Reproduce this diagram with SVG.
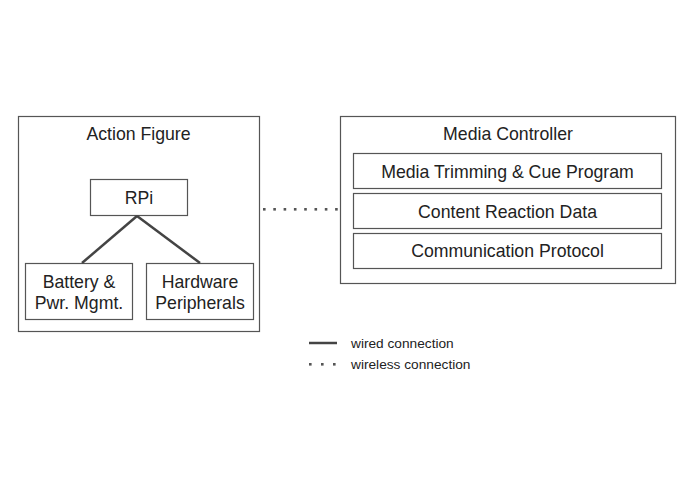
<svg xmlns="http://www.w3.org/2000/svg" width="695" height="494" viewBox="0 0 695 494">
<style>
.box{fill:#fff;stroke:#555;stroke-width:1.2}
.t{font-family:"Liberation Sans",Arial,sans-serif;font-size:17.7px;fill:#222;text-anchor:middle}
.lt{font-family:"Liberation Sans",Arial,sans-serif;font-size:13.7px;fill:#222}
.wire{stroke:#444;stroke-width:2.5;fill:none}
.dot{fill:#555}
</style>
<rect width="695" height="494" fill="#fff"/>
<g id="action-figure">
<rect class="box" x="18.5" y="116.5" width="241" height="215"/>
<text class="t" x="138.5" y="140">Action Figure</text>
</g>
<g id="rpi">
<rect class="box" x="90.5" y="179.5" width="97" height="36"/>
<text class="t" x="139" y="204">RPi</text>
</g>
<g id="battery">
<rect class="box" x="25.5" y="263.5" width="107" height="56"/>
<text class="t" x="79" y="288">Battery &amp;</text>
<text class="t" x="79" y="309">Pwr. Mgmt.</text>
</g>
<g id="hardware">
<rect class="box" x="146.5" y="263.5" width="107" height="56"/>
<text class="t" x="200" y="288">Hardware</text>
<text class="t" x="200" y="309">Peripherals</text>
</g>
<g id="media-controller">
<rect class="box" x="340.5" y="116.5" width="335" height="167"/>
<text class="t" x="508" y="140">Media Controller</text>
</g>
<g id="media-trimming">
<rect class="box" x="353.5" y="153.5" width="308" height="35"/>
<text class="t" x="507.5" y="177.5">Media Trimming &amp; Cue Program</text>
</g>
<g id="content-reaction">
<rect class="box" x="353.5" y="193.5" width="308" height="35"/>
<text class="t" x="507.5" y="217.5">Content Reaction Data</text>
</g>
<g id="communication">
<rect class="box" x="353.5" y="233.5" width="308" height="35"/>
<text class="t" x="507.5" y="257">Communication Protocol</text>
</g>
<g id="connectors">
<line class="wire" x1="137" y1="216" x2="82" y2="263"/>
<line class="wire" x1="137" y1="216" x2="200" y2="263"/>
<g class="dot">
<rect x="263" y="208" width="2.6" height="2.6"/>
<rect x="273.3" y="208" width="2.6" height="2.6"/>
<rect x="283.6" y="208" width="2.6" height="2.6"/>
<rect x="293.9" y="208" width="2.6" height="2.6"/>
<rect x="304.2" y="208" width="2.6" height="2.6"/>
<rect x="314.5" y="208" width="2.6" height="2.6"/>
<rect x="324.8" y="208" width="2.6" height="2.6"/>
<rect x="335.1" y="208" width="2.6" height="2.6"/>
</g>
</g>
<g id="legend">
<line class="wire" x1="309" y1="343" x2="337" y2="343"/>
<text class="lt" x="351" y="347.5">wired connection</text>
<g class="dot">
<rect x="309" y="363" width="2.6" height="2.6"/>
<rect x="321" y="363" width="2.6" height="2.6"/>
<rect x="333" y="363" width="2.6" height="2.6"/>
</g>
<text class="lt" x="351" y="368.5">wireless connection</text>
</g>
</svg>
